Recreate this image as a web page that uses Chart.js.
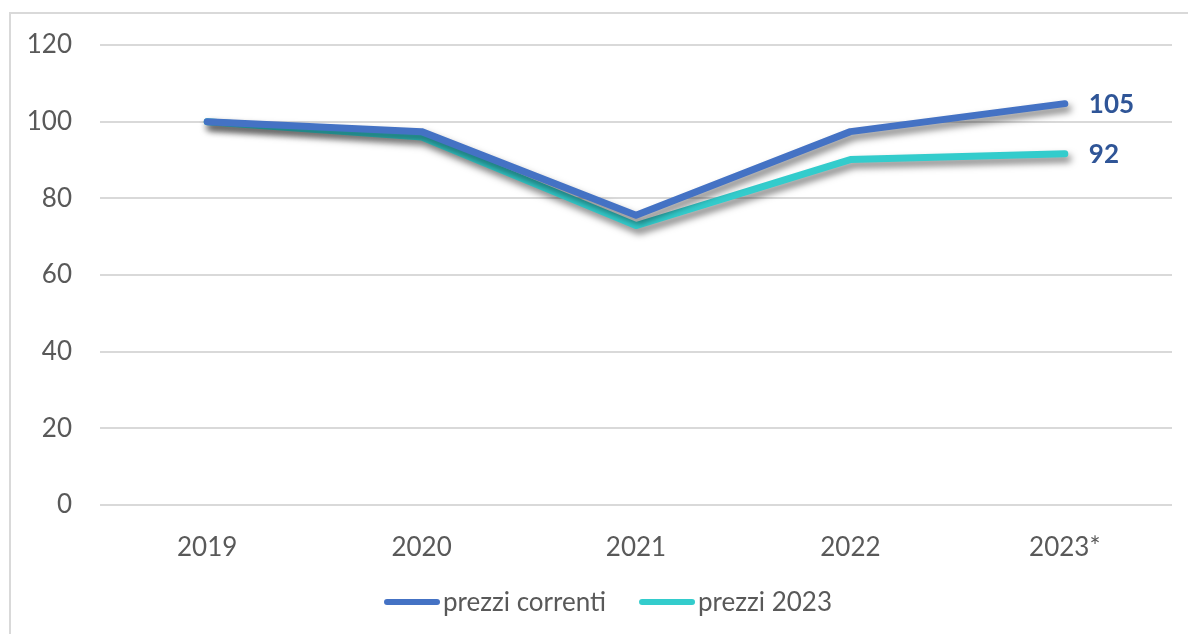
<!DOCTYPE html>
<html>
<head>
<meta charset="utf-8">
<script src="https://cdn.jsdelivr.net/npm/chart.js@4.4.0/dist/chart.umd.min.js"></script>
<style>
  html, body { margin: 0; padding: 0; background: #fff; overflow: hidden; }
  #wrap { position: relative; width: 1188px; height: 634px; }
  #frame { position: absolute; left: 9px; top: 12px; width: 1200px; height: 700px; border: 2px solid #d9d9d9; box-sizing: border-box; }
  canvas { position: absolute; left: 0; top: 0; }
</style>
</head>
<body>
<div id="wrap">
  <div id="frame"></div>
  <canvas id="grafico" width="1188" height="634"></canvas>
</div>
<script>
// dati
const anni = ['2019', '2020', '2021', '2022', '2023*'];
const prezziCorrenti = [100, 97.4, 75.6, 97.4, 104.7];
const prezzi2023 = [100, 96, 72.9, 90.1, 91.6];
const etichetteFinali = ['105', '92'];
const tickY = [0, 20, 40, 60, 80, 100, 120];

const FONT = 'Lato, "Open Sans", sans-serif';

// ombra sotto le linee
const ombra = {
  id: 'ombra',
  beforeDatasetsDraw(chart) {
    const ctx = chart.ctx;
    ctx.save();
    ctx.shadowColor = 'rgba(0,0,0,0.5)';
    ctx.shadowBlur = 7;
    ctx.shadowOffsetX = 3;
    ctx.shadowOffsetY = 5;
  },
  afterDatasetsDraw(chart) {
    chart.ctx.restore();
  }
};

// etichetta dell'ultimo punto + legenda
const extra = {
  id: 'extra',
  afterDraw(chart) {
    const ctx = chart.ctx;
    ctx.save();
    ctx.font = 'bold 26px ' + FONT;
    ctx.fillStyle = '#2F5597';
    ctx.textBaseline = 'middle';
    ctx.textAlign = 'left';
    chart.data.datasets.forEach((ds, i) => {
      const meta = chart.getDatasetMeta(i);
      const p = meta.data[meta.data.length - 1];
      ctx.fillText(etichetteFinali[i], p.x + 24, p.y + 1);
    });

    // legenda
    ctx.font = '26px ' + FONT;
    const lineLen = 56, gap = 3, spazio = 33;
    const items = chart.data.datasets.map(ds => ({ label: ds.label, color: ds.borderColor, w: lineLen + gap + ctx.measureText(ds.label).width }));
    const tot = items.reduce((s, it) => s + it.w, 0) + spazio * (items.length - 1);
    let x = 608 - tot / 2;
    const y = 602;
    items.forEach(it => {
      ctx.beginPath();
      ctx.lineCap = 'round';
      ctx.lineWidth = 6;
      ctx.strokeStyle = it.color;
      ctx.moveTo(x + 3, y);
      ctx.lineTo(x + lineLen - 3, y);
      ctx.stroke();
      ctx.fillStyle = '#595959';
      ctx.fillText(it.label, x + lineLen + gap, y + 1);
      x += it.w + spazio;
    });
    ctx.restore();
  }
};

new Chart(document.getElementById('grafico').getContext('2d'), {
  type: 'line',
  data: {
    labels: anni,
    datasets: [
      {
        label: 'prezzi correnti',
        data: prezziCorrenti,
        borderColor: '#4472C4',
        borderWidth: 7,
        pointRadius: 0,
        borderCapStyle: 'round',
        borderJoinStyle: 'round',
        tension: 0
      },
      {
        label: 'prezzi 2023',
        data: prezzi2023,
        borderColor: '#33CCCC',
        borderWidth: 7,
        pointRadius: 0,
        borderCapStyle: 'round',
        borderJoinStyle: 'round',
        tension: 0
      }
    ]
  },
  options: {
    responsive: false,
    animation: false,
    layout: { padding: { left: 0, right: 16, top: 45, bottom: 0 } },
    plugins: {
      legend: { display: false },
      tooltip: { enabled: false }
    },
    scales: {
      x: {
        offset: true,
        grid: { display: false },
        border: { display: false },
        ticks: { color: '#595959', font: { family: FONT, size: 26 }, padding: 19 },
        afterFit(scale) { scale.height = 129; }
      },
      y: {
        min: 0,
        max: 120,
        afterBuildTicks(scale) { scale.ticks = tickY.map(v => ({ value: v })); },
        grid: { color: '#d9d9d9', lineWidth: 2, drawTicks: false },
        border: { display: false },
        ticks: { color: '#595959', font: { family: FONT, size: 26 }, padding: 28 },
        afterFit(scale) { scale.width = 100; }
      }
    }
  },
  plugins: [ombra, extra]
});
</script>
</body>
</html>
